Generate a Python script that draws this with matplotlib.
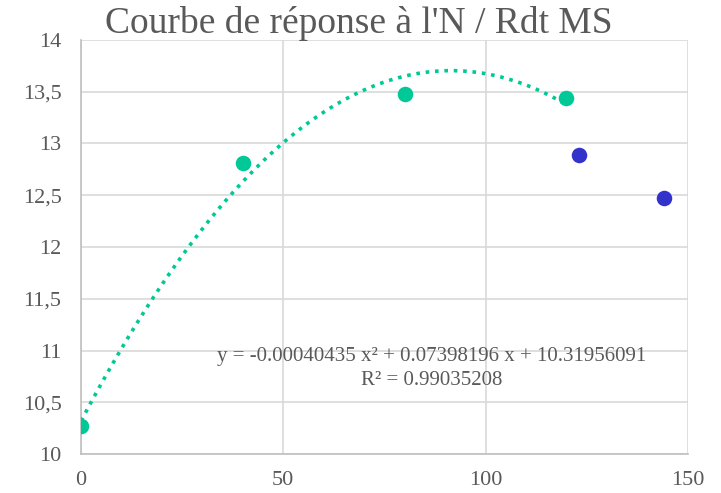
import matplotlib
matplotlib.use("Agg")
import matplotlib.pyplot as plt
import numpy as np

# Data
n_green = [0, 40, 80, 120]
rdt_green = [10.27, 12.81, 13.48, 13.44]
n_blue = [123, 144]
rdt_blue = [12.89, 12.47]
trend_coefs = [-0.00040435, 0.07398196, 10.31956091]
eq_text = "y = -0.00040435 x² + 0.07398196 x + 10.31956091"
r2_text = "R² = 0.99035208"
title = "Courbe de réponse à l'N / Rdt MS"
yticks = [10, 10.5, 11, 11.5, 12, 12.5, 13, 13.5, 14]
ytick_labels = ["10", "10,5", "11", "11,5", "12", "12,5", "13", "13,5", "14"]
xticks = [0, 50, 100, 150]
xtick_labels = ["0", "50", "100", "150"]

plt.rcParams['font.family'] = ['Liberation Serif', 'DejaVu Serif']
gray = "#595959"

fig = plt.figure(figsize=(7.21, 4.93), dpi=100)
ax = fig.add_axes([0.1124, 0.079, 0.8416, 0.840])

xs = np.linspace(min(n_green), max(n_green), 200)
ax.plot(xs, np.polyval(trend_coefs, xs), linestyle=(0, (1, 1.6)), color="#00C896",
        linewidth=2.6, zorder=3)
ax.scatter(n_green, rdt_green, s=125, color="#00C896", zorder=4, linewidths=0)
ax.scatter(n_blue, rdt_blue, s=125, color="#3333CC", zorder=4, linewidths=0)

ax.set_xlim(0, 150)
ax.set_ylim(10, 14)
ax.set_xticks(xticks)
ax.set_xticklabels(xtick_labels)
ax.set_yticks(yticks)
ax.set_yticklabels(ytick_labels)
ax.tick_params(axis='both', length=0, labelsize=16, colors=gray)
ax.tick_params(axis='x', pad=12)
ax.tick_params(axis='y', pad=14)
ax.grid(True, color="#D9D9D9", linewidth=1.2)
ax.set_axisbelow(True)
for s in ["top", "right"]:
    ax.spines[s].set_visible(False)
for s in ["left", "bottom"]:
    ax.spines[s].set_color("#BFBFBF")
    ax.spines[s].set_linewidth(1.2)

ax.text(86.7, 10.94, eq_text, ha="center", va="center", fontsize=15, color=gray)
ax.text(86.7, 10.71, r2_text, ha="center", va="center", fontsize=15, color=gray)

fig.text(0.497, 0.953, title, ha="center", va="center", fontsize=27, color=gray)

fig.savefig("out.png", dpi=100)
